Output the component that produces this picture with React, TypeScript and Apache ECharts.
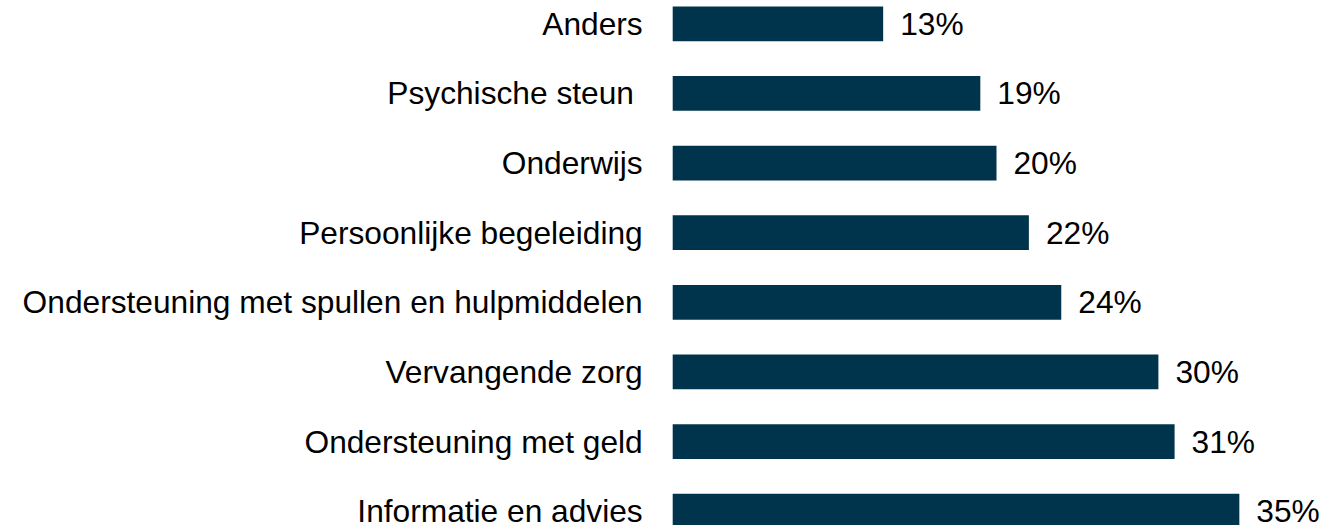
import React, { useEffect, useRef } from "react";
import * as echarts from "echarts";

const categories = [
  "Anders",
  "Psychische steun ",
  "Onderwijs",
  "Persoonlijke begeleiding",
  "Ondersteuning met spullen en hulpmiddelen",
  "Vervangende zorg",
  "Ondersteuning met geld",
  "Informatie en advies",
];
const values = [13, 19, 20, 22, 24, 30, 31, 35];

export default function App() {
  const ref = useRef<HTMLDivElement>(null);
  useEffect(() => {
    if (!ref.current) return;
    const chart = echarts.init(ref.current, undefined, { renderer: "svg" });
    const font = "'Liberation Sans', Arial, sans-serif";
    chart.setOption({
      animation: false,
      grid: { left: 672.7, top: 0, bottom: 0, width: 647.6, containLabel: false },
      xAxis: {
        type: "value",
        min: 0,
        max: 40,
        show: false,
      },
      yAxis: {
        type: "category",
        data: categories,
        inverse: true,
        axisLine: { show: false },
        axisTick: { show: false },
        splitLine: { show: false },
        axisLabel: {
          margin: 30,
          fontSize: 31.7,
          color: "#000",
          fontFamily: font,
        },
      },
      series: [
        {
          type: "bar",
          data: values,
          barCategoryGap: "50%",
          itemStyle: { color: "#00344c" },
          label: {
            show: true,
            position: "right",
            distance: 17,
            formatter: "{c}%",
            fontSize: 31.7,
            color: "#000",
            fontFamily: font,
          },
        },
      ],
    });
    return () => chart.dispose();
  }, []);
  return (
    <div
      ref={ref}
      style={{ position: "fixed", left: 0, top: -10.7, width: 1342, height: 557.3, background: "#fff" }}
    />
  );
}
